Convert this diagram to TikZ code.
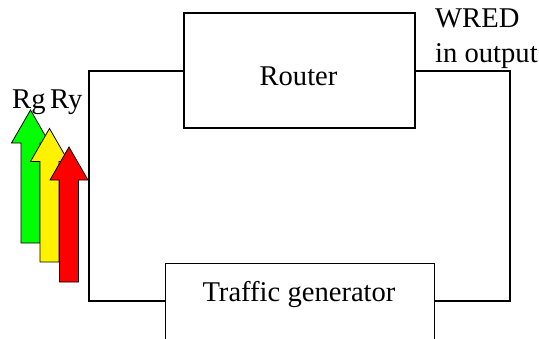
\documentclass[tikz,border=0pt]{standalone}
\usepackage{fontspec}
\setmainfont{Liberation Serif}
\begin{document}
\begin{tikzpicture}[x=1pt,y=-1pt,
  txt/.style={font=\fontsize{28.6}{32}\selectfont, inner sep=0pt, anchor=base},
  boxnode/.style={draw, line width=1.2pt, rectangle, inner sep=0pt},
  wire/.style={line width=1.2pt},
  updart/.style={draw=black, line width=0.8pt, line join=miter}]
\useasboundingbox (0,0) rectangle (539,338);

% router and traffic generator
\node[boxnode, minimum width=231pt, minimum height=115pt] (router) at (299.5,70.5) {};
\node[txt] (routerlbl) at (298.5,85) {Router};
\node[boxnode, minimum width=269pt, minimum height=150pt, anchor=north west] (tgen) at (165,263) {};
\node[txt] (tgenlbl) at (299,301) {Traffic generator};

% loop wiring
\coordinate (lt) at (89,71);
\coordinate (lb) at (89,301);
\coordinate (rt) at (510,71);
\coordinate (rb) at (510,301);
\draw[wire] (router.west |- lt) -- (lt) -- (lb) -- (tgen.west |- lb);
\draw[wire] (router.east |- rt) -- (rt) -- (rb) -- (tgen.east |- rb);

% WRED label
\node[txt, anchor=base west] (wred) at (435,27) {WRED};
\node[txt, anchor=base west] (inout) at (435,62) {in output};

% rate arrows
\newcommand{\ratearrow}[4]{% x centre, tip y, bottom y, colour
  \filldraw[updart, fill=#4]
    (#1,#2) -- (#1+19,#2+33) -- (#1+9.5,#2+33) -- (#1+9.5,#3)
    -- (#1-9.5,#3) -- (#1-9.5,#2+33) -- (#1-19,#2+33) -- cycle;}
\ratearrow{30.5}{110}{243}{green}
\ratearrow{49.5}{128.5}{262}{yellow}
\ratearrow{69}{147}{282}{red}

\node[txt, anchor=base west] (rg) at (12,108) {Rg};
\node[txt, anchor=base west] (ry) at (50,108) {Ry};
\end{tikzpicture}
\end{document}
